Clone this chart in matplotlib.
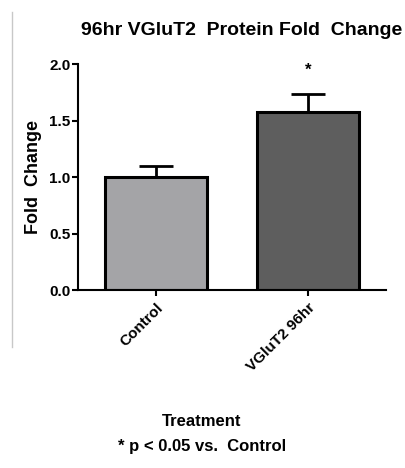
import matplotlib.pyplot as plt
from matplotlib.lines import Line2D

plt.rcParams['font.family'] = ['Liberation Sans', 'DejaVu Sans']
plt.rcParams['font.weight'] = 'bold'

# data
groups = ["Control", "VGluT2 96hr"]
fold_change = [1.00, 1.58]
sem = [0.10, 0.16]
bar_colors = ["#a4a4a7", "#5e5e5e"]
y_ticks = [0.0, 0.5, 1.0, 1.5, 2.0]

fig = plt.figure(figsize=(4.06, 4.68), dpi=100)
ax = fig.add_axes([0.192, 0.380, 0.759, 0.483])

x = list(range(len(groups)))
ax.bar(x, fold_change, width=0.67, color=bar_colors, edgecolor="black",
       linewidth=2.2, zorder=2)
ax.errorbar(x, fold_change, yerr=[[0, 0], sem], fmt="none", ecolor="black",
            elinewidth=2.0, capsize=12, capthick=2.0, zorder=1)

# significance marker
ax.text(1, 1.95, "*", ha="center", va="center", fontsize=12)

ax.set_xlim(-0.513, 1.513)
ax.set_ylim(0, 2.0)
ax.set_yticks(y_ticks)
ax.set_yticklabels([f"{t:.1f}" for t in y_ticks])
ax.set_xticks(x)
ax.set_xticklabels(groups, rotation=45, ha="right", rotation_mode="anchor")

ax.spines["top"].set_visible(False)
ax.spines["right"].set_visible(False)
ax.spines["left"].set_linewidth(1.5)
ax.spines["bottom"].set_linewidth(1.5)
ax.tick_params(axis="both", direction="out", width=1.5, length=4,
               labelsize=11)
ax.tick_params(axis="y", pad=1.5)

ax.set_ylabel("Fold  Change", fontsize=13, fontweight="bold", labelpad=5)

fig.text(0.596, 0.934, "96hr VGluT2  Protein Fold  Change", ha="center",
         va="center", fontsize=14, fontweight="bold")
fig.text(0.497, 0.100, "Treatment", ha="center", va="center",
         fontsize=12, fontweight="bold")
fig.text(0.497, 0.045, "* p < 0.05 vs.  Control", ha="center", va="center",
         fontsize=12, fontweight="bold")

# thin page border on the left of the original image
fig.add_artist(Line2D([0.03, 0.03], [0.258, 0.974], color="#c8c8c8",
                      linewidth=1.0))

fig.savefig("out.png", dpi=100)
